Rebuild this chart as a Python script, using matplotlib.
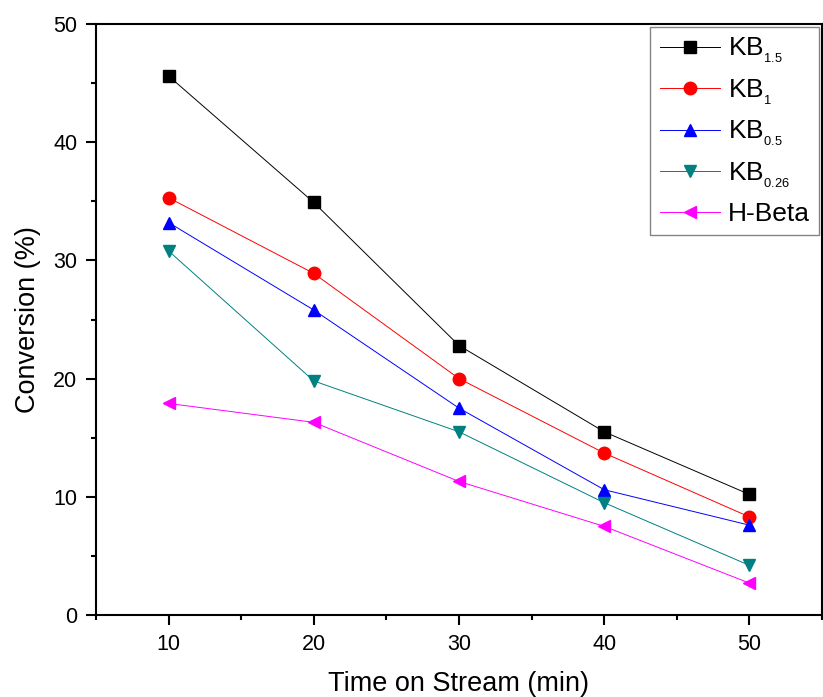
import matplotlib
matplotlib.use("Agg")
import matplotlib.pyplot as plt
from matplotlib.ticker import MultipleLocator

plt.rcParams['font.family'] = ['Liberation Sans', 'DejaVu Sans']
plt.rcParams['mathtext.fontset'] = 'custom'
plt.rcParams['mathtext.rm'] = 'Liberation Sans'
plt.rcParams['mathtext.it'] = 'Liberation Sans'

time = [10, 20, 30, 40, 50]
kb15 = [45.6, 34.9, 22.8, 15.5, 10.2]
kb1 = [35.3, 28.9, 20.0, 13.7, 8.3]
kb05 = [33.2, 25.8, 17.5, 10.6, 7.6]
kb026 = [30.8, 19.8, 15.5, 9.5, 4.2]
hbeta = [17.9, 16.3, 11.3, 7.5, 2.7]

labels = [r'KB$_{_{\mathregular{1.5}}}$', r'KB$_{_{\mathregular{1}}}$', r'KB$_{_{\mathregular{0.5}}}$',
          r'KB$_{_{\mathregular{0.26}}}$', 'H-Beta']
series = [kb15, kb1, kb05, kb026, hbeta]
colors = ['black', 'red', 'blue', '#008080', 'magenta']
markers = ['s', 'o', '^', 'v', '<']

fig = plt.figure(figsize=(8.23, 6.97), dpi=100)
ax = fig.add_axes([96/823, 82/697, 726/823, 591/697])

for y, lab, c, m in zip(series, labels, colors, markers):
    ax.plot(time, y, color=c, marker=m, markersize=9, linewidth=0.7,
            markeredgecolor=c, label=lab)

ax.set_xlim(5, 55)
ax.set_ylim(0, 50)
ax.xaxis.set_major_locator(MultipleLocator(10))
ax.xaxis.set_minor_locator(MultipleLocator(5))
ax.yaxis.set_major_locator(MultipleLocator(10))
ax.yaxis.set_minor_locator(MultipleLocator(5))
ax.tick_params(which='major', direction='out', length=7.5, width=1.5, labelsize=15.5, pad=6)
ax.tick_params(which='minor', direction='out', length=3.5, width=1.5)
for s in ax.spines.values():
    s.set_linewidth(1.5)

ax.set_xlabel('Time on Stream (min)', fontsize=19.5, labelpad=12)
ax.set_ylabel('Conversion (%)', fontsize=19.5, labelpad=9)

leg = ax.legend(loc='upper right', fontsize=19, frameon=True, fancybox=False,
                edgecolor='#666666', handlelength=2.3, borderpad=0.35,
                labelspacing=0.47, handletextpad=0.3, borderaxespad=0.1)
leg.get_frame().set_linewidth(1.0)

fig.savefig('out.png', dpi=100)
